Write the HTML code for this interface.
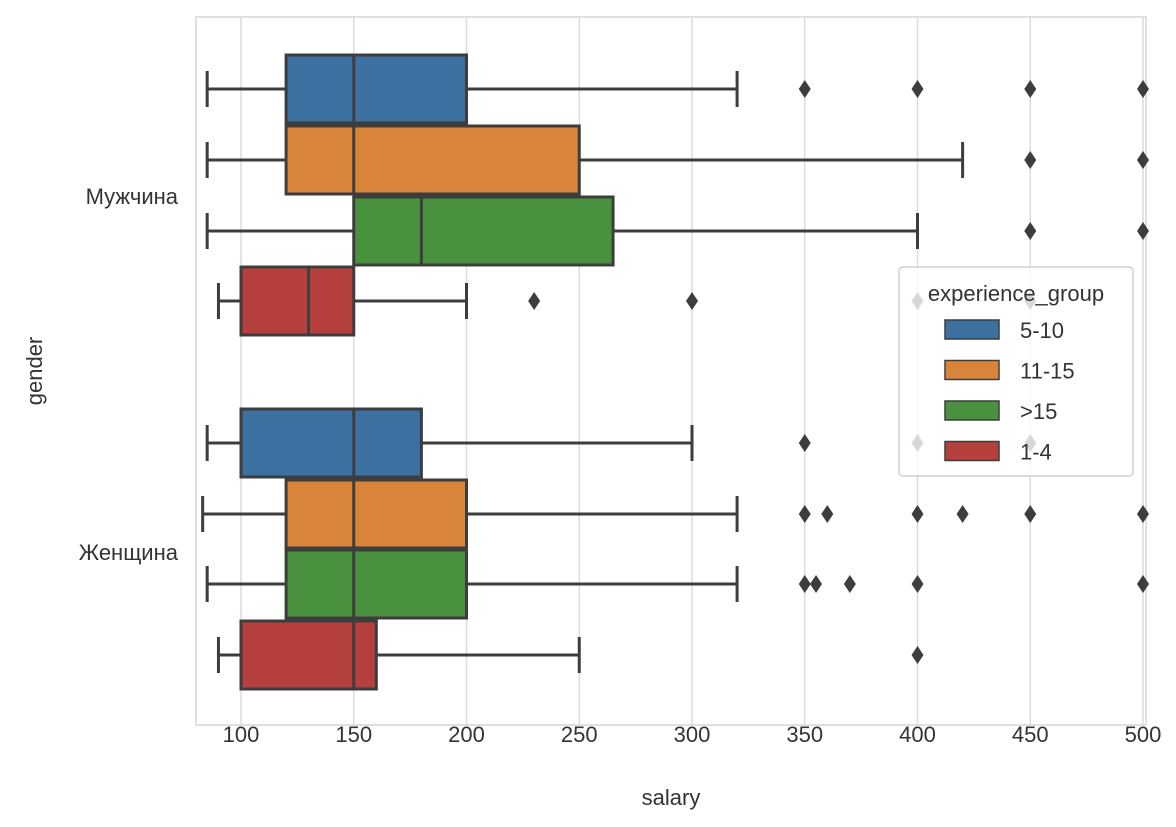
<!DOCTYPE html>
<html><head><meta charset="utf-8"><style>
body{margin:0;background:#fff;}
svg text{font-family:"Liberation Sans","DejaVu Sans",sans-serif;fill:#333;}
</style></head><body>
<svg id="s" width="1176" height="822" xmlns="http://www.w3.org/2000/svg"></svg>
<script>
const s=document.getElementById('s');
const X=v=>241+(v-100)*2.255;
let h='';
h+='<rect x="196" y="17" width="950" height="708" fill="#fff" stroke="#d6d6d6" stroke-width="1.5"/>';
for(let v=100;v<=500;v+=50){const x=X(v);h+=`<line x1="${x}" y1="17" x2="${x}" y2="725" stroke="#dcdcdc" stroke-width="1.5"/>`;
h+=`<text x="${x}" y="742" font-size="22" text-anchor="middle">${v}</text>`;}
h+='<text x="671" y="805" font-size="22" text-anchor="middle">salary</text>';
h+='<text transform="translate(42,371) rotate(-90)" font-size="22" text-anchor="middle">gender</text>';
h+='<text x="178" y="204" font-size="22" text-anchor="end">Мужчина</text>';
h+='<text x="178" y="560" font-size="22" text-anchor="end">Женщина</text>';
const C=['#3b70a0','#d9843b','#4a913f','#b6403e'];
const D=[
[85,120,150,200,320,[350,400,450,500]],
[85,120,150,250,420,[450,500]],
[85,150,180,265,400,[450,500]],
[90,100,130,150,200,[230,300,400,450]],
[85,100,150,180,300,[350,400,450]],
[83,120,150,200,320,[350,360,400,420,450,500]],
[85,120,150,200,320,[350,355,370,400,500]],
[90,100,150,160,250,[400]]];
const Y=[89,160,231,301,443,514,584,655];
D.forEach((d,i)=>{const y=Y[i],c=C[i%4],e='#3d3d3d';
h+=`<line x1="${X(d[0])}" y1="${y}" x2="${X(d[1])}" y2="${y}" stroke="${e}" stroke-width="3"/>`;
h+=`<line x1="${X(d[3])}" y1="${y}" x2="${X(d[4])}" y2="${y}" stroke="${e}" stroke-width="3"/>`;
h+=`<line x1="${X(d[0])}" y1="${y-18}" x2="${X(d[0])}" y2="${y+18}" stroke="${e}" stroke-width="3"/>`;
h+=`<line x1="${X(d[4])}" y1="${y-18}" x2="${X(d[4])}" y2="${y+18}" stroke="${e}" stroke-width="3"/>`;
h+=`<rect x="${X(d[1])}" y="${y-34}" width="${X(d[3])-X(d[1])}" height="68" fill="${c}" stroke="${e}" stroke-width="3"/>`;
h+=`<line x1="${X(d[2])}" y1="${y-34}" x2="${X(d[2])}" y2="${y+34}" stroke="${e}" stroke-width="3"/>`;
d[5].forEach(f=>{const x=Math.min(X(f),1143);h+=`<polygon points="${x},${y-9} ${x+6},${y} ${x},${y+9} ${x-6},${y}" fill="${e}"/>`;});
});
h+='<rect x="899" y="267" width="234" height="209" rx="4" fill="#fff" fill-opacity="0.8" stroke="#d0d0d0" stroke-width="1.5"/>';
h+='<text x="1016" y="301" font-size="22" text-anchor="middle">experience_group</text>';
['5-10','11-15','>15','1-4'].forEach((t,i)=>{const y=320+i*40.5;
h+=`<rect x="945" y="${y}" width="54" height="19" fill="${C[i]}" stroke="#3d3d3d" stroke-width="1.5"/>`;
h+=`<text x="1020" y="${y+18}" font-size="22">${t.replace('>','&gt;')}</text>`;});
s.innerHTML=h;
</script>
</body></html>
